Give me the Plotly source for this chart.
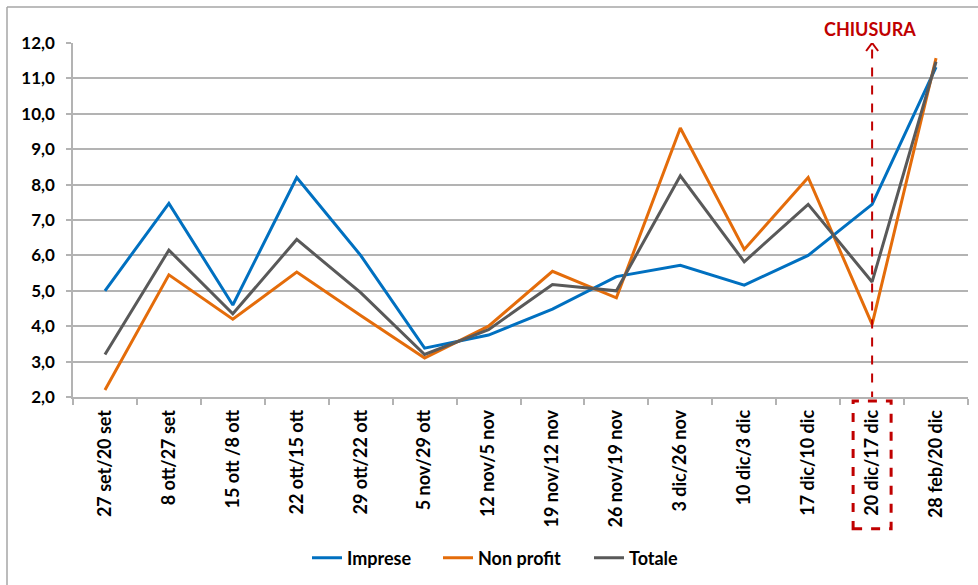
import plotly.graph_objects as go

# Weekly periods (category axis)
periods = [
    "27 set/20 set", "8 ott/27 set", "15 ott /8 ott", "22 ott/15 ott",
    "29 ott/22 ott", "5 nov/29 ott", "12 nov/5 nov", "19 nov/12 nov",
    "26 nov/19 nov", "3 dic/26 nov", "10 dic/3 dic", "17 dic/10 dic",
    "20 dic/17 dic", "28 feb/20 dic",
]

imprese = [5.0, 7.47, 4.6, 8.2, 6.0, 3.38, 3.75, 4.48, 5.4, 5.72, 5.16, 6.0, 7.44, 11.32]
non_profit = [2.2, 5.45, 4.2, 5.53, 4.3, 3.1, 4.0, 5.55, 4.8, 9.6, 6.17, 8.2, 4.05, 11.57]
totale = [3.2, 6.15, 4.35, 6.45, 4.95, 3.2, 3.9, 5.18, 5.0, 8.25, 5.82, 7.44, 5.25, 11.47]

y_ticks = [2, 3, 4, 5, 6, 7, 8, 9, 10, 11, 12]

closure_period = "20 dic/17 dic"
closure_label = "CHIUSURA"

RED = "#C00000"
GRID = "#B3B3B3"
FRAME = "#A6A6A6"
FONT = "Lato"

# plot-area geometry in pixels (used to place the outer frame and legends)
PLOT_L, PLOT_W, PLOT_T, PLOT_H = 73, 895, 43, 355

series = [
    ("Imprese", imprese, "#0070C0", "legend", 313),
    ("Non profit", non_profit, "#E46C0A", "legend2", 444),
    ("Totale", totale, "#595959", "legend3", 595),
]

fig = go.Figure()
legends = {}
for name, values, color, leg, px in series:
    fig.add_trace(go.Scatter(
        x=periods, y=values, name="<b>" + name + "</b>", mode="lines",
        line=dict(color=color, width=3), legend=leg,
    ))
    legends[leg] = dict(
        orientation="h", x=(px - 6 - PLOT_L) / PLOT_W, xanchor="left",
        y=(PLOT_T + PLOT_H - 558) / PLOT_H, yanchor="middle",
        font=dict(family=FONT, size=18), bgcolor="rgba(0,0,0,0)",
    )

frame_left = (7 - PLOT_L) / PLOT_W
frame_top = 1 + (PLOT_T - 7) / PLOT_H

shapes = [
    # outer chart frame (top and left edges)
    dict(type="line", xref="paper", yref="paper", x0=frame_left, x1=1.02,
         y0=frame_top, y1=frame_top, line=dict(color=FRAME, width=1.5)),
    dict(type="line", xref="paper", yref="paper", x0=frame_left, x1=frame_left,
         y0=frame_top, y1=-0.6, line=dict(color=FRAME, width=1.5)),
    # vertical dashed marker at the closure week
    dict(type="line", xref="x", yref="y", x0=closure_period, x1=closure_period,
         y0=1.9, y1=11.95, line=dict(color=RED, width=2, dash="dash")),
    # arrowhead
    dict(type="line", xref="x", yref="y", xsizemode="pixel", ysizemode="pixel",
         xanchor=closure_period, yanchor=12, x0=-6, x1=0, y0=-8, y1=0,
         line=dict(color=RED, width=2)),
    dict(type="line", xref="x", yref="y", xsizemode="pixel", ysizemode="pixel",
         xanchor=closure_period, yanchor=12, x0=6, x1=0, y0=-8, y1=0,
         line=dict(color=RED, width=2)),
    # dashed box around the closure tick label
    dict(type="rect", xref="x", yref="paper", xsizemode="pixel",
         xanchor=closure_period, x0=-19, x1=19, y0=-0.372, y1=-0.011,
         line=dict(color=RED, width=3, dash="dash")),
]

fig.update_layout(
    width=978, height=585,
    margin=dict(l=PLOT_L, r=978 - PLOT_L - PLOT_W, t=PLOT_T, b=585 - PLOT_T - PLOT_H),
    paper_bgcolor="white", plot_bgcolor="white",
    font=dict(family=FONT, size=15, color="#000000"),
    showlegend=True,
    shapes=shapes,
    annotations=[dict(
        text="<b>" + closure_label + "</b>", xref="x", yref="paper",
        x=closure_period, y=1.0, yanchor="bottom", yshift=1, xshift=-2,
        showarrow=False, font=dict(family=FONT, size=18, color=RED),
    )],
    **legends,
)

fig.update_xaxes(
    type="category", categoryorder="array", categoryarray=periods,
    range=[-0.5, len(periods) - 0.5],
    tickangle=-90, tickson="boundaries", ticks="outside", ticklen=6,
    tickcolor=GRID, tickwidth=1.5,
    showline=True, linecolor=GRID, linewidth=1.5,
    showgrid=False, tickfont=dict(family=FONT, size=18),
    ticklabelstandoff=4,
    tickvals=periods, ticktext=["<b>" + p + "</b>" for p in periods],
)
fig.update_yaxes(
    range=[2, 12], tickvals=y_ticks,
    ticktext=["<b>" + f"{v:.1f}".replace(".", ",") + "</b>" for v in y_ticks],
    ticks="outside", ticklen=5, tickcolor=GRID, tickwidth=1.5,
    showline=True, linecolor=GRID, linewidth=1.5,
    showgrid=True, gridcolor=GRID, gridwidth=1.5, zeroline=False,
    tickfont=dict(family=FONT, size=17), ticklabelstandoff=8,
)

fig.write_html("out.html")
